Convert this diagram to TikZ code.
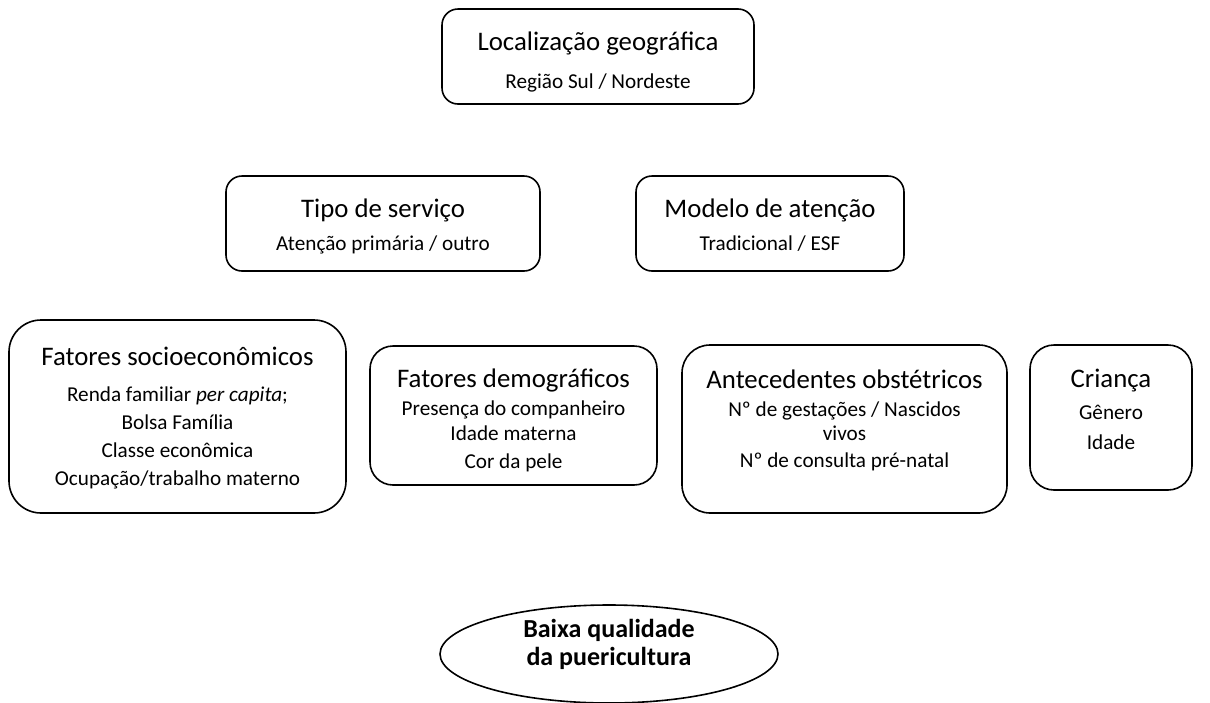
\documentclass[tikz,border=0pt]{standalone}
\usepackage{fontspec}
\setmainfont{Carlito}
\usetikzlibrary{shapes.geometric}
\newcommand{\tit}{\fontsize{26.8}{28}\selectfont}
\newcommand{\bod}{\fontsize{21.2}{28}\selectfont}
\tikzset{
  box/.style={draw, line width=1.6pt, rectangle},
  txt/.style={align=center, inner sep=0pt, font=\bod, anchor=base},
}
\begin{document}
\begin{tikzpicture}[x=1pt,y=-1pt]
\useasboundingbox (0,0) rectangle (1210,702);
% boxes
\node[box, rounded corners=16pt, minimum width=312pt, minimum height=95pt] (loc) at (598,56.5) {};
\node[box, rounded corners=16pt, minimum width=314pt, minimum height=95pt] (tipo) at (383,223.5) {};
\node[box, rounded corners=16pt, minimum width=268pt, minimum height=95pt] (mod) at (770,223.5) {};
\node[box, rounded corners=32pt, minimum width=337pt, minimum height=193pt] (soc) at (177.5,416.5) {};
\node[box, rounded corners=23pt, minimum width=287pt, minimum height=139pt] (dem) at (513.5,415.5) {};
\node[box, rounded corners=28pt, minimum width=325pt, minimum height=168pt] (ant) at (844.5,429) {};
\node[box, rounded corners=24pt, minimum width=162pt, minimum height=145pt] (cri) at (1111,417.5) {};
\node[draw, line width=1.6pt, ellipse, minimum width=338pt, minimum height=98pt] (out) at (609,654) {};
% texts (anchored at the baseline of the last line)
\node[txt] (locT) at (598,88) {{\tit Localização geográfica}\\[10pt]Região Sul / Nordeste};
\node[txt] (tipoT) at (383,250) {{\tit Tipo de serviço}\\[5pt]Atenção primária / outro};
\node[txt] (modT) at (770,250) {{\tit Modelo de atenção}\\[5pt]Tradicional / ESF};
\node[txt] (socT) at (177.5,485) {{\tit Fatores socioeconômicos}\\[8pt]Renda familiar \textit{per capita};\\Bolsa Família\\Classe econômica\\Ocupação/trabalho materno};
\node[txt] (demT) at (513.5,468) {{\tit Fatores demográficos}\\Presença do companheiro\\[-3pt]Idade materna\\Cor da pele};
\node[txt] (antT) at (844.5,467) {{\tit Antecedentes obstétricos}\\Nº de gestações / Nascidos\\[-4pt]vivos\\[-1pt]Nº de consulta pré-natal};
\node[txt] (criT) at (1111,449) {{\tit Criança}\\[4pt]Gênero\\[2pt]Idade};
\node[txt, font=\fontsize{26}{28}\selectfont\bfseries] (outT) at (609,665) {Baixa qualidade\\da puericultura};
\end{tikzpicture}
\end{document}
